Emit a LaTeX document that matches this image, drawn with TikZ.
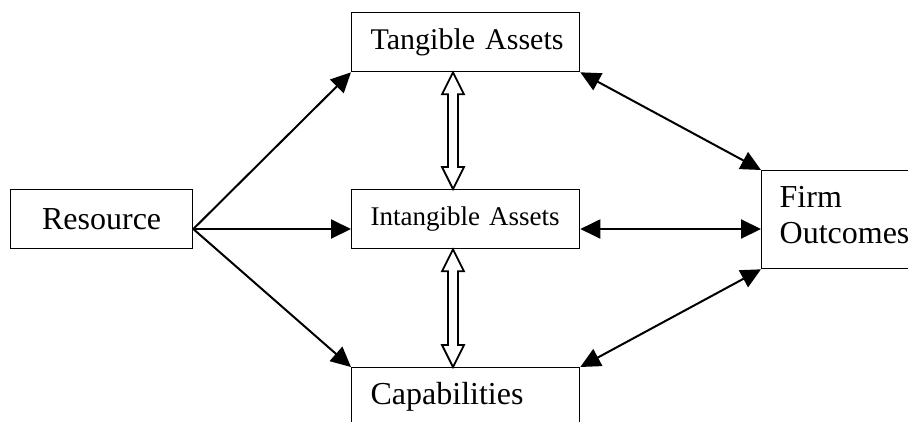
\documentclass[tikz,border=0pt]{standalone}
\usepackage{fontspec}
\setmainfont{Liberation Serif}
\usetikzlibrary{arrows.meta,calc}
\tikzset{
  box/.style={draw, line width=1.3pt, inner xsep=19pt, inner ysep=0pt, text width=190pt,
    align=left, minimum height=59pt, anchor=north west},
  link/.style={line width=2pt, -{Triangle[length=20pt,width=19pt]}},
  both/.style={line width=2pt, {Triangle[length=20pt,width=19pt]}-{Triangle[length=20pt,width=19pt]}},
  hollow/.style={line width=1.8pt, fill=white},
}
\newcommand{\hollowarrow}[2]{%
  \draw[hollow] (#1) -- ++(-11,22) -- ++(6,0) -- ($(#2)+(-5,-22)$) -- ++(-6,0) -- (#2)
    -- ++(11,-22) -- ++(-6,0) -- ($(#1)+(5,22)$) -- ++(6,0) -- cycle;}

\begin{document}
\begin{tikzpicture}[x=1pt, y=-1pt]
\useasboundingbox (0,0) rectangle (908,421);
\clip (0,0) rectangle (908,421);

\node[box, text width=182pt, inner xsep=0pt, align=center, font=\fontsize{32}{36}\selectfont] (rs) at (10,189) {Resource};
\node[box, font=\fontsize{30}{34}\selectfont] (ta) at (351,12) {\mbox{Tangible Assets}};
\node[box, font=\fontsize{27}{31}\selectfont] (ia) at (351,189) {\mbox{Intangible Assets}};
\node[box, font=\fontsize{32}{36}\selectfont] (cp) at (351,367) {Capabilities};
\node[box, inner xsep=18pt, text width=192pt, minimum height=98pt, text depth=45.5pt,
  font=\fontsize{32}{36}\selectfont] (fo) at (761,170) {Firm\\Outcomes};

\coordinate (mid) at (0,229);
\coordinate (hx) at (453,0);

% solid arrows
\draw[link] (rs.east |- mid) -- (ta.south west);
\draw[link] (rs.east |- mid) -- (ia.west |- mid);
\draw[link] (rs.east |- mid) -- (cp.north west);
\draw[both] (ta.south east) -- (fo.north west);
\draw[both] (ia.east |- mid) -- (fo.west |- mid);
\draw[both] (cp.north east) -- (fo.south west);

% hollow double arrows
\coordinate (h1) at (ta.south -| hx);
\coordinate (h2) at (ia.north -| hx);
\coordinate (h3) at (ia.south -| hx);
\coordinate (h4) at (cp.north -| hx);
\hollowarrow{h1}{h2}
\hollowarrow{h3}{h4}
\end{tikzpicture}
\end{document}
